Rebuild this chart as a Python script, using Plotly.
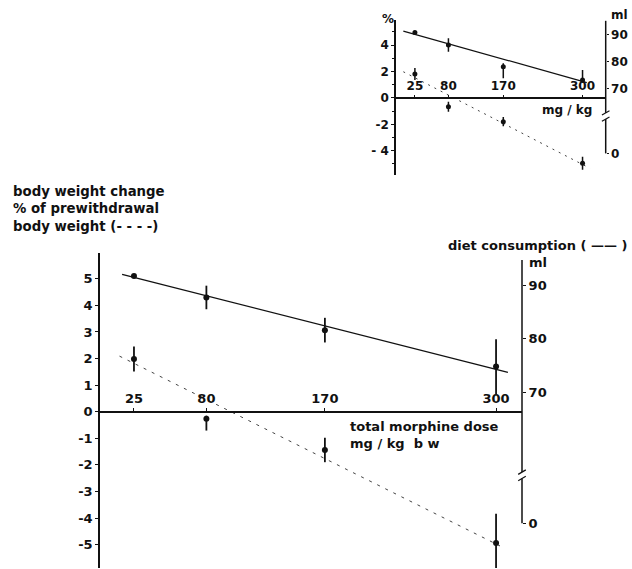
import plotly.graph_objects as go

W, H = 632, 569

# ---------------- data: main panel ----------------
dose = [25, 80, 170, 300]
weight_pct = [1.98, -0.27, -1.44, -4.94]
weight_err_plus = [0.47, 0.12, 0.46, 1.10]
weight_err_minus = [0.47, 0.44, 0.46, 1.10]
diet_ml = [91.7, 87.7, 81.6, 74.8]
diet_err = [0.3, 2.2, 2.3, 5.1]
weight_fit_dose = [14, 303]
weight_fit_pct = [2.09, -5.05]
diet_fit_dose = [16, 309]
diet_fit_ml = [92.0, 73.7]

# ---------------- data: inset panel ----------------
inset_weight_pct = [1.81, -0.67, -1.80, -4.95]
inset_weight_err = [0.45, 0.38, 0.35, 0.50]
inset_diet_ml = [90.7, 86.0, 78.0, 73.1]
inset_diet_err_plus = [0.5, 2.5, 1.3, 3.7]
inset_diet_err_minus = [0.5, 2.5, 4.3, 1.0]
inset_weight_fit_dose = [6, 312]
inset_weight_fit_pct = [1.98, -5.33]
inset_diet_fit_dose = [6, 307]
inset_diet_fit_ml = [91.2, 72.1]

# ---------------- tick labels ----------------
dose_ticks = [25, 80, 170, 300]
pct_ticks_main = [-5, -4, -3, -2, -1, 0, 1, 2, 3, 4, 5]
pct_labels_main = ["-5", "-4", "-3", "-2", "-1", "0", "1", "2", "3", "4", "5"]
pct_ticks_inset = [-4, -2, 0, 2, 4]
pct_labels_inset = ["- 4", "-2", "0", "2", "4"]
ml_ticks = [70, 80, 90]
ml_tick_text = ["0", "70", "80", "90"]

# ---------------- geometry ----------------
def px_x(p):
    return p / W

def px_y(p):
    return (H - p) / H

FONT = "DejaVu Sans"
BLACK = "#111111"

main_xdom = [px_x(100), px_x(522)]
main_ydom = [px_y(568), px_y(253)]
main_xrange = [-0.8, 319.7]
main_pct_range = [-5.88, 5.97]
main_ml_range = [37.2, 96.0]
main_ml_zero = 45.56  # position of the "0" label on the broken ml axis
main_break = [55.1, 53.9]
main_ml_top = 94.7

ins_xdom = [px_x(396), px_x(605.7)]
ins_ydom = [px_y(175), px_y(20)]
ins_xrange = [-6, 338]
ins_pct_range = [-5.84, 5.90]
ins_ml_range = [37.9, 95.3]
ins_ml_zero = 45.9
ins_break = [60.9, 58.6]
ins_ml_top = 95.0


def zero_pos(dom, rng):
    return dom[0] + (0 - rng[0]) / (rng[1] - rng[0]) * (dom[1] - dom[0])


tick_font = dict(family=FONT, size=13, color=BLACK, weight="bold")
tick_font_small = dict(family=FONT, size=12, color=BLACK, weight="bold")

fig = go.Figure()

err_style = dict(type="data", thickness=1.8, width=0, color=BLACK, symmetric=False)
mk = dict(size=6, color=BLACK)
dash_line = dict(color="#444444", width=1, dash="3px,6px")
solid_line = dict(color=BLACK, width=1.3)

# ---- main panel ----
fig.add_trace(go.Scatter(x=weight_fit_dose, y=weight_fit_pct, mode="lines",
                         line=dash_line, xaxis="x", yaxis="y", hoverinfo="skip"))
fig.add_trace(go.Scatter(x=dose, y=weight_pct, mode="markers", marker=mk,
                         error_y=dict(array=weight_err_plus, arrayminus=weight_err_minus, **err_style),
                         xaxis="x", yaxis="y"))
fig.add_trace(go.Scatter(x=diet_fit_dose, y=diet_fit_ml, mode="lines",
                         line=solid_line, xaxis="x", yaxis="y2", hoverinfo="skip"))
fig.add_trace(go.Scatter(x=dose, y=diet_ml, mode="markers", marker=mk,
                         error_y=dict(array=diet_err, arrayminus=diet_err, **err_style),
                         xaxis="x", yaxis="y2"))

# ---- inset ----
mk_s = dict(size=5, color=BLACK)
err_s = dict(err_style, thickness=1.5)
fig.add_trace(go.Scatter(x=inset_weight_fit_dose, y=inset_weight_fit_pct, mode="lines",
                         line=dict(color="#444444", width=1, dash="2px,5px"),
                         xaxis="x2", yaxis="y3", hoverinfo="skip"))
fig.add_trace(go.Scatter(x=dose, y=inset_weight_pct, mode="markers", marker=mk_s,
                         error_y=dict(array=inset_weight_err, arrayminus=inset_weight_err, **err_s),
                         xaxis="x2", yaxis="y3"))
fig.add_trace(go.Scatter(x=inset_diet_fit_dose, y=inset_diet_fit_ml, mode="lines",
                         line=dict(color=BLACK, width=1.2), xaxis="x2", yaxis="y4", hoverinfo="skip"))
fig.add_trace(go.Scatter(x=dose, y=inset_diet_ml, mode="markers", marker=mk_s,
                         error_y=dict(array=inset_diet_err_plus, arrayminus=inset_diet_err_minus, **err_s),
                         xaxis="x2", yaxis="y4"))

axis_common = dict(showgrid=False, zeroline=False, linecolor=BLACK, tickcolor=BLACK,
                   fixedrange=True)

fig.update_layout(
    width=W, height=H,
    margin=dict(l=0, r=0, t=0, b=0),
    paper_bgcolor="white", plot_bgcolor="rgba(0,0,0,0)",
    showlegend=False,
    xaxis=dict(domain=main_xdom, range=main_xrange, anchor="free",
               position=zero_pos(main_ydom, main_pct_range), side="top",
               showline=True, linewidth=1.5, ticks="outside", ticklen=3,
               tickvals=dose_ticks, tickfont=tick_font, **axis_common),
    yaxis=dict(domain=main_ydom, range=main_pct_range, anchor="x",
               showline=True, linewidth=1.5, ticks="outside", ticklen=3,
               tickvals=pct_ticks_main, ticktext=pct_labels_main,
               tickfont=tick_font, **axis_common),
    yaxis2=dict(range=main_ml_range, overlaying="y", side="right", anchor="x",
                showline=False, ticks="outside", ticklen=3,
                tickvals=[main_ml_zero] + ml_ticks, ticktext=ml_tick_text,
                tickfont=tick_font, **axis_common),
    xaxis2=dict(domain=ins_xdom, range=ins_xrange, anchor="free",
                position=zero_pos(ins_ydom, ins_pct_range), side="top",
                showline=True, linewidth=1.5, ticks="outside", ticklen=2,
                tickvals=dose_ticks, tickfont=tick_font_small, **axis_common),
    yaxis3=dict(domain=ins_ydom, range=ins_pct_range, anchor="x2",
                showline=True, linewidth=1.5, ticks="outside", ticklen=3,
                tickvals=pct_ticks_inset, ticktext=pct_labels_inset,
                tickfont=tick_font_small,
                minor=dict(dtick=1, tick0=0, ticks="outside", ticklen=2, tickcolor=BLACK),
                **axis_common),
    yaxis4=dict(range=ins_ml_range, overlaying="y3", side="right", anchor="x2",
                showline=False, ticks="outside", ticklen=2,
                tickvals=[ins_ml_zero] + ml_ticks, ticktext=ml_tick_text,
                tickfont=tick_font_small, **axis_common),
)

# ---- broken right-hand axes ----
def broken_axis(xref, yref, top, brk, zero, dx):
    shapes = []
    ln = dict(color=BLACK, width=1.5)
    shapes.append(dict(type="line", xref=xref, yref=yref, x0=1, x1=1, y0=top, y1=brk[0], line=ln))
    shapes.append(dict(type="line", xref=xref, yref=yref, x0=1, x1=1, y0=brk[1], y1=zero, line=ln))
    dy = (brk[0] - brk[1]) * 0.35
    for b in brk:
        shapes.append(dict(type="line", xref=xref, yref=yref, x0=1 - dx, x1=1 + dx,
                           y0=b - dy, y1=b + dy, line=dict(color=BLACK, width=1.2)))
    return shapes

shapes = []
shapes += broken_axis("x domain", "y2", main_ml_top, main_break, main_ml_zero, 0.009)
shapes += broken_axis("x2 domain", "y4", ins_ml_top, ins_break, ins_ml_zero, 0.018)
fig.update_layout(shapes=shapes)

# ---- text ----
def ann(text, x, y, size=13, xanchor="left", align="left"):
    return dict(text=text, x=px_x(x), y=px_y(y), xref="paper", yref="paper",
                xanchor=xanchor, yanchor="middle", showarrow=False, align=align,
                borderpad=0,
                font=dict(family=FONT, size=size, color=BLACK, weight="bold"))

annotations = [
    ann("body weight change<br>% of prewithdrawal<br>body weight (- - - -)", 12, 209, 13.3),
    ann("diet consumption ( —— )", 447, 245, 13),
    ann("ml", 528, 262, 13),
    ann("total morphine dose<br>mg / kg  b w", 349, 435, 13),
    ann("%", 381, 19, 12),
    ann("ml", 610, 15, 12),
    ann("mg / kg", 567, 110, 12, xanchor="center"),
]
fig.update_layout(annotations=annotations)

fig.write_html("out.html")
